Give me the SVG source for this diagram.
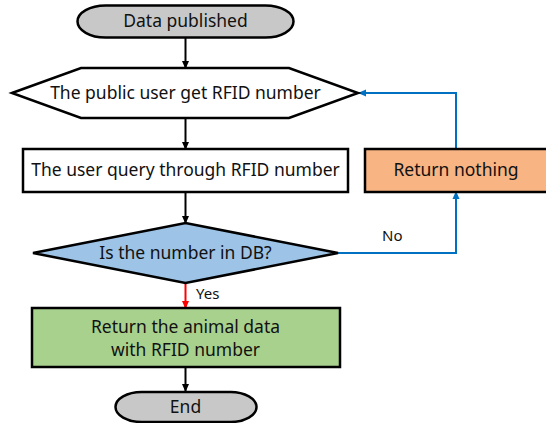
<svg xmlns="http://www.w3.org/2000/svg" width="546" height="423" viewBox="0 0 546 423">
<defs>
<marker id="ab" markerWidth="8" markerHeight="8" refX="7" refY="4" orient="auto" markerUnits="userSpaceOnUse"><path d="M0,0.5 L8,4 L0,7.5 Z" fill="#000"/></marker>
<marker id="ar" markerWidth="8" markerHeight="8" refX="7" refY="4" orient="auto" markerUnits="userSpaceOnUse"><path d="M0,0.5 L8,4 L0,7.5 Z" fill="#ff0000"/></marker>
<marker id="au" markerWidth="8" markerHeight="8" refX="7" refY="4" orient="auto" markerUnits="userSpaceOnUse"><path d="M0,0.5 L8,4 L0,7.5 Z" fill="#0070c0"/></marker>
<style>
.s{stroke:#000;stroke-width:2.5;}
.t{font-family:"Noto Sans","Open Sans",sans-serif;font-size:17.5px;fill:#111;text-anchor:middle;}
.l{font-family:"Noto Sans","Open Sans",sans-serif;font-size:15px;fill:#111;}
.cb{fill:none;stroke:#000;stroke-width:2;marker-end:url(#ab);}
.cr{fill:none;stroke:#ff0000;stroke-width:2;marker-end:url(#ar);}
.cu{fill:none;stroke:#0070c0;stroke-width:2;marker-end:url(#au);}
</style>
</defs>
<g id="connectors">
<path class="cb" d="M185.5,38 V68"/>
<path class="cb" d="M185.5,118 V149"/>
<path class="cb" d="M185.5,192 V223"/>
<path class="cr" d="M185.5,283 V308"/>
<path class="cb" d="M185.5,367 V391"/>
<path class="cu" d="M338,253 H456 V192"/>
<path class="cu" d="M456,149 V93 H359"/>
<text class="l" x="382" y="241">No</text>
<text class="l" x="196" y="299">Yes</text>
</g>
<g id="start"><rect class="s" x="77.5" y="5.5" width="216" height="32" rx="28" ry="16" fill="#c8c8c8"/><text class="t" x="185.5" y="27">Data published</text></g>
<g id="get"><polygon class="s" points="12,93 81,68 289,68 358,93 289,118 81,118" fill="#fff"/><text class="t" x="185.5" y="99">The public user get RFID number</text></g>
<g id="query"><rect class="s" x="23" y="149" width="325" height="43" fill="#fff"/><text class="t" x="185.5" y="176">The user query through RFID number</text></g>
<g id="nothing"><rect class="s" x="365" y="149" width="185" height="43" fill="#f8b483"/><text class="t" x="456" y="176">Return nothing</text></g>
<g id="decision"><polygon class="s" points="33,253 185.5,223 338,253 185.5,283" fill="#9dc3e6"/><text class="t" x="185.5" y="259">Is the number in DB?</text></g>
<g id="ret"><rect class="s" x="32" y="308" width="308" height="59" fill="#a9d18e"/><text class="t" x="185.5" y="333">Return the animal data</text><text class="t" x="185.5" y="356">with RFID number</text></g>
<g id="end"><rect class="s" x="115.5" y="392" width="141" height="30" rx="26" ry="15" fill="#c8c8c8"/><text class="t" x="185.5" y="413">End</text></g>
</svg>
